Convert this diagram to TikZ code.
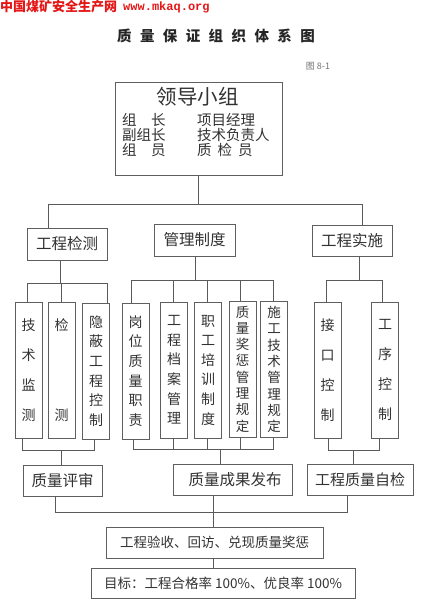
\documentclass[tikz,border=0pt]{standalone}
\usepackage{fontspec}
\setmainfont{Noto Sans CJK SC}
\newfontfamily\cjk{Noto Sans CJK SC}
\newfontfamily\monob{Liberation Mono}
\definecolor{hred}{RGB}{228,22,22}
\definecolor{bx}{RGB}{95,95,95}
\definecolor{lc}{RGB}{90,90,90}
\definecolor{tx}{RGB}{50,50,50}
\begin{document}
\begin{tikzpicture}[x=1pt,y=-1pt,
  box/.style={draw=bx, line width=0.8pt, inner sep=0pt, text=tx},
  vb/.style={box, minimum width=27pt, minimum height=136pt, align=center},
  hb/.style={box, minimum height=31pt, font=\fontsize{15.5}{16}\selectfont},
  ln/.style={draw=lc, line width=0.8pt},
  lt/.style={text=tx, inner sep=0pt, anchor=west, font=\fontsize{14.5}{15}\selectfont}]
\useasboundingbox[fill=white] (0,0) rectangle (425,612);
% header
\node[anchor=west, inner sep=0pt, text=hred, font=\fontsize{13}{13}\selectfont\bfseries] (h1) at (0,7) {中国煤矿安全生产网};
\node[anchor=west, inner sep=0pt, text=hred, font=\monob\fontsize{12}{12}\selectfont\bfseries] (h2) at (123,7) {www.mkaq.org};
\node[inner sep=0pt, text=black!85, font=\fontsize{14.5}{15}\selectfont\bfseries] (title) at (216,36) {质\hspace{8.4pt}量\hspace{8.4pt}保\hspace{8.4pt}证\hspace{8.4pt}组\hspace{8.4pt}织\hspace{8.4pt}体\hspace{8.4pt}系\hspace{8.4pt}图};
\node[inner sep=0pt, text=black!55, font=\fontsize{9}{9}\selectfont] (fig) at (318,66) {图 8-1};
% leader
\node[box, minimum width=167pt, minimum height=93pt] (L) at (198.5,128.5) {};
\node[inner sep=0pt, text=tx, font=\fontsize{20.5}{21}\selectfont] (Lt) at (197.5,97) {领导小组};
\node[lt] (r1a) at (122,120) {组\hspace{14.5pt}长};
\node[lt] (r2a) at (122,135) {副组长};
\node[lt] (r3a) at (122,150) {组\hspace{14.5pt}员};
\node[lt] (r1b) at (197,120) {项目经理};
\node[lt] (r2b) at (197,135) {技术负责人};
\node[lt] (r3b) at (197,150) {质\hspace{6pt}检\hspace{6pt}员};
% second level
\node[hb, minimum width=80pt, minimum height=32pt] (jc) at (67,244) {工程检测};
\node[hb, minimum width=81pt, minimum height=32pt] (gl) at (194.5,240) {管理制度};
\node[hb, minimum width=80pt] (gs) at (352,240.5) {工程实施};
% tall boxes
\node[vb, font=\fontsize{14}{30}\selectfont] (v1) at (28.5,370) {技\\术\\监\\测};
\node[vb, font=\fontsize{14}{90}\selectfont] (v2) at (61.5,370) {检\\测};
\node[vb, font=\fontsize{14}{19.6}\selectfont] (v3) at (96,371) {隐\\蔽\\工\\程\\控\\制};
\node[vb, font=\fontsize{14}{19.6}\selectfont] (v4) at (135.5,371) {岗\\位\\质\\量\\职\\责};
\node[vb, font=\fontsize{14}{19.6}\selectfont] (v5) at (174,370) {工\\程\\档\\案\\管\\理};
\node[vb, font=\fontsize{14}{19.6}\selectfont] (v6) at (208,370) {职\\工\\培\\训\\制\\度};
\node[vb, font=\fontsize{13.5}{16.3}\selectfont] (v7) at (242.5,369) {质\\量\\奖\\惩\\管\\理\\规\\定};
\node[vb, font=\fontsize{13.5}{16.3}\selectfont] (v8) at (274,369.5) {施\\工\\技\\术\\管\\理\\规\\定};
\node[vb, font=\fontsize{14}{30}\selectfont] (v9) at (327.5,370) {接\\口\\控\\制};
\node[vb, font=\fontsize{14}{30}\selectfont] (v10) at (385,370) {工\\序\\控\\制};
% result boxes
\node[hb, minimum width=79pt] (pj) at (62.5,480.5) {质量评审};
\node[hb, minimum width=119pt] (cg) at (232.5,479.5) {\hspace{5pt}质量成果发布};
\node[hb, minimum width=106pt, font=\fontsize{15}{16}\selectfont] (zj) at (360,479.5) {工程质量自检};
\node[box, minimum width=217pt, minimum height=31pt, font=\fontsize{13.5}{14}\selectfont] (ys) at (214.5,542.5) {工程验收、回访、兑现质量奖惩};
\node[box, minimum width=264pt, minimum height=30pt, font=\fontsize{13.5}{14}\selectfont] (mb) at (223,583) {目标：工程合格率 100\%、优良率 100\%};
% bus coordinates
\coordinate (b1L) at (48,204); \coordinate (b1R) at (362,204);
\coordinate (a0) at (60,283); \coordinate (a1) at (27,283); \coordinate (a2) at (61,283); \coordinate (a3) at (107,283);
\coordinate (m0) at (195,280); \coordinate (m1) at (131,280); \coordinate (m2) at (173,280); \coordinate (m3) at (207,280); \coordinate (m4) at (240,280); \coordinate (m5) at (273,280);
\coordinate (s0) at (359,280); \coordinate (s1) at (326,280); \coordinate (s2) at (382,280);
\coordinate (c1) at (22,450); \coordinate (c3) at (94,450); \coordinate (c0) at (61,450);
\coordinate (d1) at (133,449); \coordinate (d2) at (173,449); \coordinate (d3) at (207,449); \coordinate (d4) at (240,449); \coordinate (d5) at (273,449); \coordinate (d0) at (220,449);
\coordinate (e1) at (328,450); \coordinate (e2) at (379,450); \coordinate (e0) at (353,450);
\coordinate (f1) at (55,512); \coordinate (f2) at (213,512); \coordinate (f3) at (347,512);
% connectors
\draw[ln] (L.south) -- (L.south |- b1L);
\draw[ln] (b1L) -- (b1R);
\draw[ln] (b1L) -- (b1L |- jc.north);
\draw[ln] (b1R) -- (b1R |- gs.north);
\draw[ln] (a0 |- jc.south) -- (a0);
\draw[ln] (a1) -- (a3);
\draw[ln] (a1) -- (a1 |- v1.north);
\draw[ln] (a2) -- (a2 |- v2.north);
\draw[ln] (a3) -- (a3 |- v3.north);
\draw[ln] (m0 |- gl.south) -- (m0);
\draw[ln] (m1) -- (m5);
\draw[ln] (m1) -- (m1 |- v4.north);
\draw[ln] (m2) -- (m2 |- v5.north);
\draw[ln] (m3) -- (m3 |- v6.north);
\draw[ln] (m4) -- (m4 |- v7.north);
\draw[ln] (m5) -- (m5 |- v8.north);
\draw[ln] (s0 |- gs.south) -- (s0);
\draw[ln] (s1) -- (s2);
\draw[ln] (s1) -- (s1 |- v9.north);
\draw[ln] (s2) -- (s2 |- v10.north);
\draw[ln] (c1 |- v1.south) -- (c1) -- (c3) -- (c3 |- v3.south);
\draw[ln] (c0) -- (c0 |- pj.north);
\draw[ln] (d1 |- v4.south) -- (d1) -- (d5) -- (d5 |- v8.south);
\draw[ln] (d2 |- v5.south) -- (d2);
\draw[ln] (d3 |- v6.south) -- (d3);
\draw[ln] (d4 |- v7.south) -- (d4);
\draw[ln] (d0) -- (d0 |- cg.north);
\draw[ln] (e1 |- v9.south) -- (e1) -- (e2) -- (e2 |- v10.south);
\draw[ln] (e0) -- (e0 |- zj.north);
\draw[ln] (f1 |- pj.south) -- (f1) -- (f3) -- (f3 |- zj.south);
\draw[ln] (f2 |- cg.south) -- (f2);
\draw[ln] (f2) -- (f2 |- ys.north);
\draw[ln] (f2 |- ys.south) -- (f2 |- mb.north);
\end{tikzpicture}
\end{document}
